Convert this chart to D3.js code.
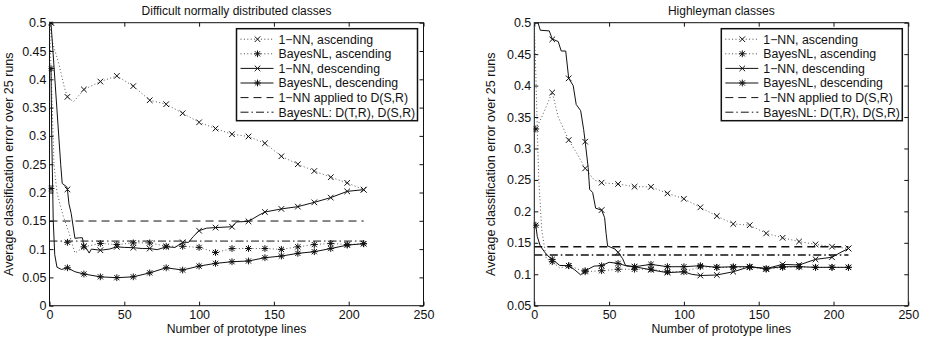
<!DOCTYPE html>
<html>
<head>
<meta charset="utf-8">
<script src="https://cdn.jsdelivr.net/npm/d3@7"></script>
<style>
  body { margin: 0; background: #fff; }
  text { font-family: "Liberation Sans", Arial, sans-serif; fill: #111; }
</style>
</head>
<body>
<svg id="chart" width="925" height="344"></svg>
<script>
// marker positions (every 11th prototype count)
const markerX = [1, 12, 23, 34, 45, 56, 67, 78, 89, 100, 111, 122, 133, 144, 155, 166, 177, 188, 199, 210]
const legendLabels = ['1\u2212NN, ascending', 'BayesNL, ascending', '1\u2212NN, descending',
  'BayesNL, descending', '1\u2212NN applied to D(S,R)', 'BayesNL: D(T,R), D(S,R)']
const xTicks = [0, 50, 100, 150, 200, 250]
const yTicksLeft = [0, 0.05, 0.1, 0.15, 0.2, 0.25, 0.3, 0.35, 0.4, 0.45, 0.5]
const yTicksRight = [0.05, 0.1, 0.15, 0.2, 0.25, 0.3, 0.35, 0.4, 0.45, 0.5]

// ---- left panel: difficult normally distributed classes ----
const nnAscL = [0.5, 0.369, 0.382, 0.396, 0.406, 0.388, 0.363, 0.356, 0.340, 0.324, 0.313, 0.303, 0.299, 0.287, 0.264, 0.250, 0.238, 0.227, 0.217, 0.205]
const bayesAscL = [0.207, 0.112, 0.104, 0.110, 0.108, 0.111, 0.111, 0.105, 0.105, 0.103, 0.094, 0.101, 0.101, 0.101, 0.0995, 0.104, 0.108, 0.110, 0.108, 0.1095]
const nnDescL = [0.5, 0.2055, 0.105, 0.098, 0.104, 0.1025, 0.101, 0.104, 0.112, 0.1325, 0.138, 0.1395, 0.149, 0.1655, 0.171, 0.175, 0.1826, 0.191, 0.202, 0.205]
const bayesDescL = [0.419, 0.067, 0.056, 0.051, 0.0495, 0.051, 0.058, 0.067, 0.063, 0.070, 0.0748, 0.0777, 0.079, 0.0848, 0.0877, 0.0925, 0.0954, 0.101, 0.107, 0.1095]

const nnAscLineL = [[0, 0.5], [2, 0.465], [6, 0.43], [10, 0.385], [12, 0.369], [16, 0.36], [23, 0.382], [34, 0.396], [45, 0.406], [56, 0.388], [67, 0.363], [78, 0.356], [89, 0.34], [100, 0.324], [111, 0.313], [122, 0.303], [133, 0.299], [144, 0.287], [155, 0.264], [166, 0.25], [177, 0.238], [188, 0.227], [199, 0.217], [210, 0.205]]
const bayesAscLineL = [[0, 0.5], [1.5, 0.38], [3, 0.25], [5, 0.2], [9, 0.16], [13, 0.129], [17, 0.093], [23, 0.104], [34, 0.11], [45, 0.108], [56, 0.111], [67, 0.111], [78, 0.105], [89, 0.105], [100, 0.103], [111, 0.094], [122, 0.101], [133, 0.101], [144, 0.101], [155, 0.0995], [166, 0.104], [177, 0.108], [188, 0.11], [199, 0.108], [210, 0.1095]]
const nnDescLineL = [[1, 0.5], [7.5, 0.249], [8.5, 0.216], [11.5, 0.21], [12, 0.2055], [13, 0.18], [14.5, 0.163], [17, 0.119], [20, 0.12], [22, 0.12], [23, 0.105], [25, 0.1], [26.5, 0.093], [28, 0.1], [34, 0.098], [40, 0.1], [45, 0.104], [50, 0.103], [56, 0.1025], [62, 0.101], [67, 0.101], [72, 0.099], [78, 0.104], [84, 0.103], [89, 0.112], [93, 0.112], [96, 0.122], [100, 0.1325], [105, 0.137], [111, 0.138], [122, 0.1395], [125, 0.148], [133, 0.149], [140, 0.16], [144, 0.1655], [155, 0.171], [166, 0.175], [177, 0.1826], [188, 0.191], [199, 0.202], [210, 0.205]]
const bayesDescLineL = [[1, 0.42], [1.5, 0.3], [2.5, 0.15], [3.5, 0.09], [5, 0.068], [8, 0.064], [12, 0.067], [17, 0.06], [23, 0.056], [34, 0.051], [45, 0.0495], [56, 0.051], [67, 0.058], [78, 0.067], [89, 0.063], [100, 0.07], [111, 0.0748], [122, 0.0777], [133, 0.079], [144, 0.0848], [155, 0.0877], [166, 0.0925], [177, 0.0954], [188, 0.101], [199, 0.107], [210, 0.1095]]
const nnRefL = 0.1496
const bayesRefL = 0.1142

// ---- right panel: Highleyman classes ----
const nnAscR = [null, 0.389, 0.3134, 0.2684, 0.2456, 0.2435, 0.2392, 0.239, 0.2286, 0.220, 0.2064, 0.1926, 0.180, 0.178, 0.165, 0.158, 0.152, 0.1475, 0.1438, 0.141]
const bayesAscR = [0.331, 0.12, 0.1136, 0.104, 0.1056, 0.108, 0.108, 0.108, 0.104, 0.104, 0.112, 0.111, 0.111, 0.111, 0.108, 0.111, 0.112, 0.111, 0.111, 0.111]
const nnDescR = [null, 0.4735, 0.4115, 0.3108, 0.2021, 0.1348, 0.112, 0.107, 0.1025, 0.104, 0.098, 0.0988, 0.104, 0.112, 0.109, 0.1157, 0.1147, 0.1237, 0.127, 0.141]
const bayesDescR = [0.178, 0.1237, 0.1136, 0.1056, 0.1136, 0.1173, 0.112, 0.1157, 0.112, 0.112, 0.1136, 0.111, 0.112, 0.112, 0.109, 0.112, 0.112, 0.111, 0.111, 0.111]

const nnAscLineR = [[1, 0.331], [5, 0.35], [10, 0.378], [12, 0.389], [16, 0.35], [23, 0.3134], [29, 0.29], [34, 0.2684], [40, 0.25], [45, 0.2456], [56, 0.2435], [67, 0.2392], [78, 0.239], [89, 0.2286], [100, 0.22], [111, 0.2064], [122, 0.1926], [133, 0.18], [144, 0.178], [155, 0.165], [166, 0.158], [177, 0.152], [188, 0.1475], [199, 0.1438], [210, 0.141]]
const bayesAscLineR = [[0, 0.5], [1, 0.42], [2, 0.33], [3, 0.25], [5, 0.17], [8, 0.125], [12, 0.12], [17, 0.11], [23, 0.1136], [34, 0.104], [45, 0.1056], [56, 0.108], [67, 0.108], [78, 0.108], [89, 0.104], [100, 0.104], [111, 0.112], [122, 0.111], [133, 0.111], [144, 0.111], [155, 0.108], [166, 0.111], [177, 0.112], [188, 0.111], [199, 0.111], [210, 0.111]]
const nnDescLineR = [[2.5, 0.5], [4, 0.488], [10, 0.487], [12, 0.474], [16, 0.47], [18, 0.455], [21, 0.455], [23, 0.4115], [26, 0.4], [28, 0.37], [31, 0.36], [33, 0.33], [34, 0.3108], [36, 0.27], [37, 0.235], [39, 0.23], [41, 0.205], [45, 0.2021], [47, 0.19], [48, 0.165], [49, 0.145], [54, 0.14], [56, 0.1348], [59, 0.125], [61, 0.114], [67, 0.112], [78, 0.107], [89, 0.1025], [100, 0.104], [105, 0.1], [111, 0.098], [122, 0.0988], [133, 0.104], [144, 0.112], [155, 0.109], [166, 0.1157], [177, 0.1147], [188, 0.1237], [199, 0.127], [205, 0.135], [210, 0.141]]
const bayesDescLineR = [[1, 0.178], [2, 0.16], [4, 0.145], [7, 0.135], [10, 0.127], [12, 0.1237], [17, 0.114], [23, 0.1136], [27, 0.107], [31, 0.099], [34, 0.1056], [40, 0.113], [45, 0.1136], [50, 0.119], [56, 0.1173], [62, 0.113], [67, 0.112], [78, 0.1157], [89, 0.112], [100, 0.112], [111, 0.1136], [122, 0.111], [133, 0.112], [144, 0.112], [155, 0.109], [166, 0.112], [177, 0.112], [188, 0.111], [199, 0.111], [210, 0.111]]
const nnRefR = 0.1438
const bayesRefR = 0.1306

const svg = d3.select('#chart')
svg.append('rect').attr('width', 925).attr('height', 344).attr('fill', '#fff')

const DOTTED = '1 2.4'
const DASHED = '8 5'
const DASHDOT = '8 3 1.5 3'

function drawMarker(g, type, x, y, s) {
    const m = g.append('g').attr('transform', `translate(${x},${y})`)
        .attr('stroke', '#111').attr('stroke-width', 1).attr('fill', 'none')
    m.append('path').attr('d', `M${-s},${-s}L${s},${s}M${-s},${s}L${s},${-s}`)
    if (type == 'star') {
        const t = s * 1.3
        m.append('path').attr('d', `M${-t},0L${t},0M0,${-t}L0,${t}`)
    }
}

function drawPanel(cfg) {
    const left = cfg.left, top = 22.7, width = 374, height = 283
    const g = svg.append('g').attr('transform', `translate(${left},${top})`)
    const x = d3.scaleLinear().domain([0, 250]).range([0, width])
    const y = d3.scaleLinear().domain(cfg.yDomain).range([height, 0])

    // axes with inward ticks on all four sides
    const fmt = d => d3.format('~g')(d)
    g.append('g').attr('transform', `translate(0,${height})`)
        .call(d3.axisBottom(x).tickValues(xTicks).tickSizeInner(-4).tickSizeOuter(0).tickPadding(4).tickFormat(fmt))
    g.append('g')
        .call(d3.axisTop(x).tickValues(xTicks).tickSizeInner(-4).tickSizeOuter(0).tickFormat(''))
    g.append('g')
        .call(d3.axisLeft(y).tickValues(cfg.yTicks).tickSizeInner(-4).tickSizeOuter(0).tickPadding(3).tickFormat(fmt))
    g.append('g').attr('transform', `translate(${width},0)`)
        .call(d3.axisRight(y).tickValues(cfg.yTicks).tickSizeInner(-4).tickSizeOuter(0).tickFormat(''))
    g.selectAll('.domain').remove()
    g.selectAll('.tick line').attr('stroke', '#111')
    g.selectAll('.tick text').attr('font-size', 12.5).attr('fill', '#111')
        .attr('font-family', '"Liberation Sans", Arial, sans-serif')
    g.append('rect').attr('width', width).attr('height', height)
        .attr('fill', 'none').attr('stroke', '#111').attr('stroke-width', 1)

    const clip = 'clip' + cfg.id
    g.append('clipPath').attr('id', clip).append('rect')
        .attr('x', -1).attr('y', -1).attr('width', width + 2).attr('height', height + 2)
    const plot = g.append('g').attr('clip-path', `url(#${clip})`)

    const line = d3.line().x(d => x(d[0])).y(d => y(d[1]))

    // reference lines
    plot.append('path').datum([[0, cfg.nnRef], [210, cfg.nnRef]]).attr('d', line)
        .attr('fill', 'none').attr('stroke', '#111').attr('stroke-width', cfg.refWidth).attr('stroke-dasharray', DASHED)
    plot.append('path').datum([[0, cfg.bayesRef], [210, cfg.bayesRef]]).attr('d', line)
        .attr('fill', 'none').attr('stroke', '#111').attr('stroke-width', cfg.refWidth).attr('stroke-dasharray', DASHDOT)

    cfg.series.forEach(s => {
        plot.append('path').datum(s.line).attr('d', line)
            .attr('fill', 'none')
            .attr('stroke', s.dotted ? '#444' : '#111')
            .attr('stroke-width', s.dotted ? 0.9 : 1)
            .attr('stroke-dasharray', s.dotted ? DOTTED : null)
        s.marks.forEach((v, i) => {
            if (v == null) return
            drawMarker(plot, s.marker, x(markerX[i]), y(v), s.marker == 'star' ? 2.6 : 2.8)
        })
    })

    // title and axis labels
    g.append('text').attr('x', width / 2).attr('y', -8).attr('text-anchor', 'middle')
        .attr('font-size', 12).text(cfg.title)
    g.append('text').attr('x', width / 2).attr('y', height + 27).attr('text-anchor', 'middle')
        .attr('font-size', 12.2).text('Number of prototype lines')
    g.append('text').attr('transform', `translate(${-cfg.ylabelOffset},${height / 2}) rotate(-90)`)
        .attr('text-anchor', 'middle').attr('font-size', 12.5)
        .text('Average classification error over 25 runs')

    // legend
    const lg = g.append('g').attr('transform', `translate(${width - 187},6)`)
    lg.append('rect').attr('width', 181).attr('height', 92)
        .attr('fill', '#fff').attr('stroke', '#111').attr('stroke-width', 1.5)
    const kinds = [
        { dash: DOTTED, marker: 'x', dotted: true },
        { dash: DOTTED, marker: 'star', dotted: true },
        { dash: null, marker: 'x' },
        { dash: null, marker: 'star' },
        { dash: DASHED, marker: null },
        { dash: DASHDOT, marker: null }
    ]
    legendLabels.forEach((label, i) => {
        const cy = 10.5 + i * 14.6
        lg.append('line').attr('x1', 4).attr('x2', 37).attr('y1', cy).attr('y2', cy)
            .attr('stroke', kinds[i].dotted ? '#444' : '#111').attr('stroke-width', 1)
            .attr('stroke-dasharray', kinds[i].dash)
        if (kinds[i].marker) drawMarker(lg, kinds[i].marker, 21, cy, kinds[i].marker == 'star' ? 2.6 : 2.8)
        lg.append('text').attr('x', 42).attr('y', cy + 4.5).attr('font-size', 12.3).text(label)
    })
}

drawPanel({
    id: 'L', left: 49.5, title: 'Difficult normally distributed classes',
    yDomain: [0, 0.5], yTicks: yTicksLeft, ylabelOffset: 37, refWidth: 1,
    nnRef: nnRefL, bayesRef: bayesRefL,
    series: [
        { line: nnAscLineL, marks: nnAscL, marker: 'x', dotted: true },
        { line: bayesAscLineL, marks: bayesAscL, marker: 'star', dotted: true },
        { line: nnDescLineL, marks: nnDescL, marker: 'x' },
        { line: bayesDescLineL, marks: bayesDescL, marker: 'star' }
    ]
})

drawPanel({
    id: 'R', left: 534.3, title: 'Highleyman classes',
    yDomain: [0.05, 0.5], yTicks: yTicksRight, ylabelOffset: 39, refWidth: 1.6,
    nnRef: nnRefR, bayesRef: bayesRefR,
    series: [
        { line: nnAscLineR, marks: nnAscR, marker: 'x', dotted: true },
        { line: bayesAscLineR, marks: bayesAscR, marker: 'star', dotted: true },
        { line: nnDescLineR, marks: nnDescR, marker: 'x' },
        { line: bayesDescLineR, marks: bayesDescR, marker: 'star' }
    ]
})
</script>
</body>
</html>
